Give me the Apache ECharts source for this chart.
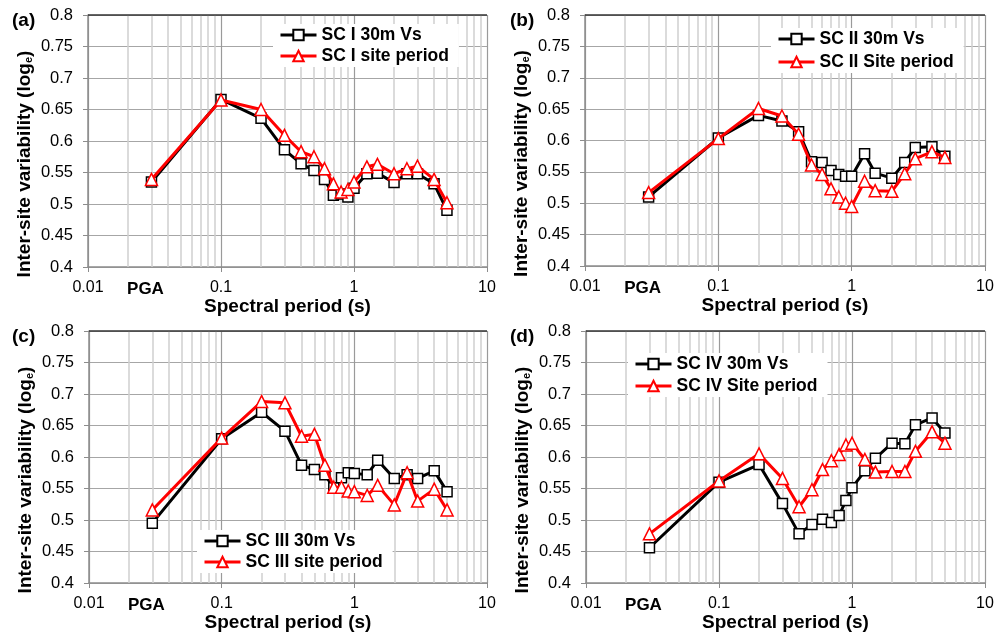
<!DOCTYPE html>
<html>
<head>
<meta charset="utf-8">
<script src="https://cdn.jsdelivr.net/npm/echarts@6/dist/echarts.min.js"></script>
<style>
  html, body { margin: 0; padding: 0; background: #fff; }
  #chart { width: 997px; height: 635px; }
</style>
</head>
<body>
<div id="chart"></div>
<script>
// spectral periods (PGA drawn at 0.03 s)
const periods = [0.03, 0.1, 0.2, 0.3, 0.4, 0.5, 0.6, 0.7, 0.8, 0.9, 1, 1.25, 1.5, 2, 2.5, 3, 4, 5];

const vsI    = [0.535, 0.666, 0.636, 0.586, 0.564, 0.553, 0.539, 0.514, 0.516, 0.511, 0.525, 0.548, 0.549, 0.534, 0.548, 0.548, 0.532, 0.490];
const siteI  = [0.539, 0.665, 0.650, 0.609, 0.583, 0.575, 0.556, 0.532, 0.519, 0.523, 0.535, 0.559, 0.563, 0.548, 0.556, 0.560, 0.539, 0.502];
const vsII   = [0.510, 0.604, 0.640, 0.631, 0.614, 0.566, 0.565, 0.552, 0.546, 0.543, 0.543, 0.579, 0.548, 0.540, 0.565, 0.589, 0.590, 0.575];
const siteII = [0.517, 0.603, 0.651, 0.639, 0.610, 0.561, 0.546, 0.523, 0.510, 0.500, 0.495, 0.535, 0.520, 0.519, 0.547, 0.571, 0.582, 0.573];
const vsIII   = [0.495, 0.629, 0.671, 0.641, 0.587, 0.580, 0.572, 0.551, 0.567, 0.575, 0.574, 0.572, 0.595, 0.566, 0.572, 0.566, 0.578, 0.545];
const siteIII = [0.516, 0.630, 0.688, 0.686, 0.633, 0.636, 0.587, 0.552, 0.552, 0.546, 0.545, 0.539, 0.555, 0.524, 0.575, 0.530, 0.549, 0.516];
const vsIV   = [0.456, 0.560, 0.588, 0.526, 0.478, 0.493, 0.501, 0.496, 0.507, 0.531, 0.551, 0.578, 0.598, 0.622, 0.621, 0.651, 0.662, 0.638];
const siteIV = [0.478, 0.562, 0.605, 0.566, 0.521, 0.548, 0.580, 0.594, 0.604, 0.619, 0.622, 0.596, 0.576, 0.577, 0.577, 0.609, 0.640, 0.622];

const minorPeriods = [0.02, 0.03, 0.04, 0.05, 0.06, 0.07, 0.08, 0.09,
                      0.2, 0.3, 0.4, 0.5, 0.6, 0.7, 0.8, 0.9,
                      2, 3, 4, 5, 6, 7, 8, 9];

const panelLabels = ['(a)', '(b)', '(c)', '(d)'];
const vsNames   = ['SC I 30m Vs', 'SC II 30m Vs', 'SC III 30m Vs', 'SC IV 30m Vs'];
const siteNames = ['SC I site period', 'SC II Site period', 'SC III site period', 'SC IV Site period'];
const vsData   = [vsI, vsII, vsIII, vsIV];
const siteData = [siteI, siteII, siteIII, siteIV];

const FONT = '"Liberation Sans", Arial, sans-serif';

const grids = [
  { left: 88, top: 15, width: 399, height: 252 },
  { left: 585, top: 15, width: 400, height: 251 },
  { left: 89, top: 331, width: 398, height: 252 },
  { left: 586, top: 331, width: 399, height: 252 }
];
const legendPos = [
  { left: 273, top: 24, gap: 3 },
  { left: 771, top: 28, gap: 5 },
  { left: 197, top: 530, gap: 3 },
  { left: 628, top: 353, gap: 4 }
];
const titlePos = [
  { left: 7, top: 6 },
  { left: 505, top: 6 },
  { left: 7, top: 322 },
  { left: 505, top: 322 }
];

const pairs = vals => periods.map((p, i) => [p, vals[i]]);

const option = {
  animation: false,
  backgroundColor: '#fff',
  title: [],
  grid: [],
  xAxis: [],
  yAxis: [],
  legend: [],
  series: []
};

for (let i = 0; i < 4; i++) {
  option.title.push({
    text: panelLabels[i],
    left: titlePos[i].left,
    top: titlePos[i].top,
    textStyle: { fontFamily: FONT, fontSize: 19, fontWeight: 'bold', color: '#000' }
  });
  option.grid.push(grids[i]);
  option.xAxis.push({
    type: 'log',
    gridIndex: i,
    logBase: 10,
    min: 0.01,
    max: 10,
    name: 'Spectral period (s)',
    nameLocation: 'middle',
    nameGap: 29,
    nameTextStyle: { fontFamily: FONT, fontSize: 19, fontWeight: 'bold', color: '#000' },
    axisLine: { lineStyle: { color: '#8c8c8c', width: 1.5 } },
    axisTick: { show: true, length: 5, lineStyle: { color: '#8c8c8c' } },
    axisLabel: {
      fontFamily: FONT, fontSize: 16, color: '#000', margin: 13,
      formatter: v => String(+v.toPrecision(2))
    },
    splitLine: { show: true, lineStyle: { color: '#9a9a9a', width: 1.2 } }
  });
  option.yAxis.push({
    type: 'value',
    gridIndex: i,
    min: 0.4,
    max: 0.8,
    interval: 0.05,
    name: 'Inter-site variability (log{sub|e})',
    nameLocation: 'middle',
    nameGap: 54,
    nameTextStyle: {
      fontFamily: FONT, fontSize: 19, fontWeight: 'bold', color: '#000',
      padding: [0, 46, 0, 0],
      rich: { sub: { fontFamily: FONT, fontSize: 11, fontWeight: 'bold', color: '#000', verticalAlign: 'bottom' } }
    },
    axisLine: { show: true, lineStyle: { color: '#8c8c8c', width: 1.5 } },
    axisTick: { show: true, length: 5, lineStyle: { color: '#8c8c8c' } },
    axisLabel: {
      fontFamily: FONT, fontSize: 16.5, color: '#000', margin: 15,
      formatter: v => String(+v.toFixed(2))
    },
    splitLine: { show: true, lineStyle: { color: '#a6a6a6', width: 1 } }
  });
  option.legend.push({
    orient: 'vertical',
    left: legendPos[i].left,
    top: legendPos[i].top,
    data: [vsNames[i], siteNames[i]],
    backgroundColor: '#fff',
    padding: [2, 10, 2, 6],
    itemWidth: 36,
    itemHeight: 13,
    itemGap: legendPos[i].gap,
    selectedMode: false,
    lineStyle: { width: 3 },
    textStyle: { fontFamily: FONT, fontSize: 17.5, fontWeight: 'bold', color: '#000' }
  });

  const minorLines = minorPeriods.map(p => ({ xAxis: p }));
  minorLines.push({ yAxis: 0.8, lineStyle: { color: '#333', width: 1.5, type: 'solid' } });

  option.series.push({
    name: vsNames[i],
    type: 'line',
    xAxisIndex: i,
    yAxisIndex: i,
    data: pairs(vsData[i]),
    symbol: 'rect',
    symbolSize: 10,
    lineStyle: { color: '#000', width: 3 },
    itemStyle: { color: '#fff', borderColor: '#000', borderWidth: 1.5 },
    z: 2,
    markLine: {
      silent: true,
      z: 1,
      symbol: ['none', 'none'],
      label: { show: false },
      lineStyle: { color: '#cfcfcf', width: 1.5, type: 'solid' },
      emphasis: { disabled: true },
      data: minorLines
    }
  });
  option.series.push({
    name: siteNames[i],
    type: 'line',
    xAxisIndex: i,
    yAxisIndex: i,
    data: pairs(siteData[i]),
    symbol: 'triangle',
    symbolSize: 12,
    lineStyle: { color: '#ff0000', width: 3 },
    itemStyle: { color: '#fff', borderColor: '#ff0000', borderWidth: 1.5 },
    z: 3,
    markPoint: {
      silent: true,
      symbolSize: 0,
      label: {
        show: true, position: 'bottom', distance: 14, offset: [-6, 0],
        formatter: 'PGA',
        fontFamily: FONT, fontSize: 17, fontWeight: 'bold', color: '#000'
      },
      data: [{ coord: [periods[0], 0.4] }]
    }
  });
}

const chart = echarts.init(document.getElementById('chart'));
chart.setOption(option);
</script>
</body>
</html>
